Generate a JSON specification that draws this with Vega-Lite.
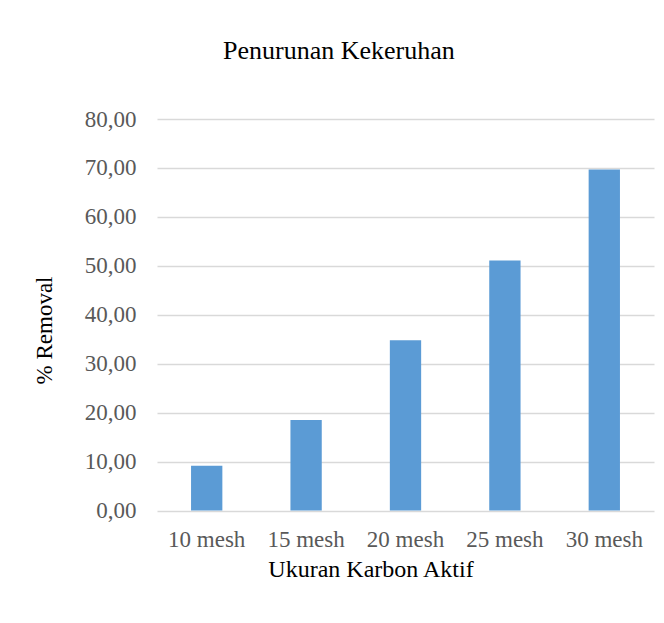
{
  "$schema": "https://vega.github.io/schema/vega-lite/v6.json",
  "autosize": {"type": "none"},
  "padding": {"left": 157, "top": 119, "right": 10, "bottom": 112.5},
  "width": 497,
  "height": 391.5,
  "background": "#ffffff",
  "config": {
    "locale": {"number": {"decimal": ",", "thousands": ".", "grouping": [3], "currency": ["", ""]}},
    "view": {"stroke": null},
    "font": "Liberation Serif"
  },
  "title": {
    "text": "Penurunan Kekeruhan",
    "font": "Liberation Serif",
    "fontSize": 26,
    "fontWeight": "normal",
    "color": "#000000",
    "anchor": "start",
    "frame": "group",
    "dx": 66,
    "baseline": "alphabetic",
    "offset": 23
  },
  "data": {
    "values": [
      {"ukuran": "10 mesh", "removal": 9.15},
      {"ukuran": "15 mesh", "removal": 18.5},
      {"ukuran": "20 mesh", "removal": 34.8},
      {"ukuran": "25 mesh", "removal": 51.1},
      {"ukuran": "30 mesh", "removal": 69.7}
    ]
  },
  "mark": {"type": "bar", "color": "#5B9BD5"},
  "encoding": {
    "x": {
      "field": "ukuran",
      "type": "nominal",
      "sort": null,
      "scale": {"paddingInner": 0.685, "paddingOuter": 0.3425},
      "axis": {
        "title": "Ukuran Karbon Aktif",
        "titleFont": "Liberation Serif",
        "titleFontSize": 24,
        "titleFontWeight": "normal",
        "titleColor": "#000000",
        "titleAlign": "center",
        "titleBaseline": "alphabetic",
        "titleAnchor": null,
        "titleX": 213.5,
        "titleY": 66,
        "labelFont": "Liberation Serif",
        "labelFontSize": 23,
        "labelColor": "#595959",
        "labelAngle": 0,
        "labelBaseline": "alphabetic",
        "labelPadding": 36,
        "ticks": false,
        "tickSize": 0,
        "domain": false,
        "grid": false
      }
    },
    "y": {
      "field": "removal",
      "type": "quantitative",
      "scale": {"domain": [0, 80], "nice": false},
      "axis": {
        "title": "% Removal",
        "titleFont": "Liberation Serif",
        "titleFontSize": 23,
        "titleFontWeight": "normal",
        "titleColor": "#000000",
        "titleAngle": -90,
        "titleAlign": "center",
        "titleBaseline": "alphabetic",
        "titleAnchor": null,
        "titleX": -106,
        "titleY": 211,
        "values": [0, 10, 20, 30, 40, 50, 60, 70, 80],
        "format": ".2f",
        "labelFont": "Liberation Serif",
        "labelFontSize": 23,
        "labelColor": "#595959",
        "labelPadding": 21,
        "ticks": false,
        "tickSize": 0,
        "domain": false,
        "grid": true,
        "gridColor": "#D9D9D9",
        "gridWidth": 1.4
      }
    }
  }
}
